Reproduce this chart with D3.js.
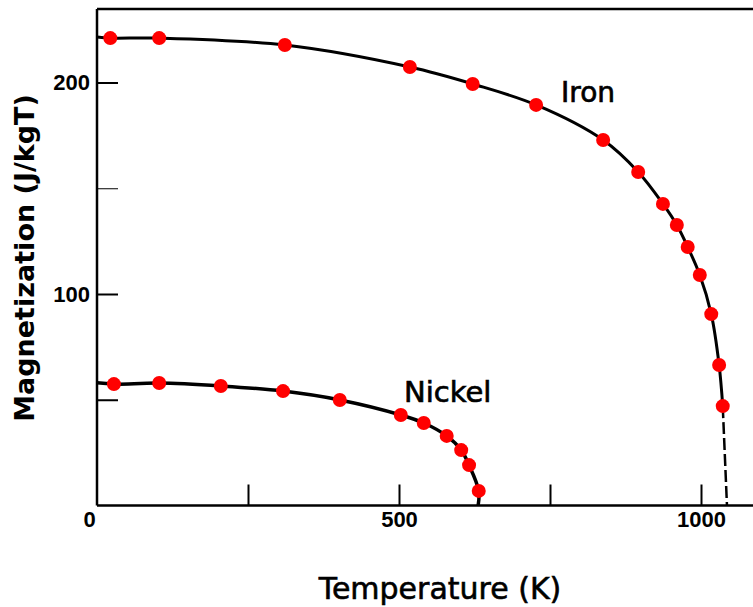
<!DOCTYPE html>
<html><head><meta charset="utf-8">
<script src="https://cdn.jsdelivr.net/npm/d3@7"></script>
<style>html,body{margin:0;padding:0;background:#fff;}svg{display:block;}</style>
</head><body>
<svg id="chart" width="753" height="607"></svg>
<script>
// Data
const ironT = [22, 103, 311, 518, 622, 727, 838, 896, 937, 960, 978, 998, 1017, 1030, 1036];
const ironM = [221, 221, 217.7, 207.3, 199.3, 189.4, 172.8, 157.7, 142.6, 132.6, 122.2, 109, 90.5, 66.4, 47];
const nickelT = [28, 103, 205, 308, 402, 503, 541, 579, 603, 616, 632];
const nickelM = [57.4, 57.9, 56.5, 54.1, 49.9, 42.8, 39.0, 32.9, 26.2, 19.1, 6.9];
const ironStart = [0, 221.5];
const ironCurie = [1043, 0];
const nickelStart = [0, 58];
const nickelCurie = [631, 0];
const xTickValues = [250, 500, 750, 1000];
const xTickLabels = [0, 500, 1000];
const yTickValues = [50, 100, 150, 200];
const yTickLabels = [100, 200];

const svg = d3.select("#chart");
const x = d3.scaleLinear().domain([0, 1000]).range([97, 701]);
const y = d3.scaleLinear().domain([0, 200]).range([505.5, 82.5]);
const xMax = x.invert(753), yMax = y.invert(9);

// frame
svg.append("line").attr("x1", x(0)).attr("x2", x(xMax)).attr("y1", y(yMax)).attr("y2", y(yMax))
  .attr("stroke", "#000").attr("stroke-width", 2.5);

// x axis (ticks inward)
const gx = svg.append("g").attr("transform", `translate(0,${y(0)})`)
  .call(d3.axisBottom(x).tickValues(xTickValues).tickSizeInner(-21).tickSizeOuter(0).tickFormat(""));
gx.select(".domain").attr("d", `M${x(0)},0H${x(xMax)}`).attr("stroke-width", 2.5);
gx.selectAll(".tick line").attr("stroke-width", 2);

const gxl = svg.append("g").attr("transform", `translate(0,${y(0)})`)
  .call(d3.axisBottom(x).tickValues(xTickLabels).tickSize(0).tickPadding(6).tickFormat(d3.format("d")));
gxl.select(".domain").remove();
gxl.selectAll("text").attr("font-family", "Liberation Sans, Arial, sans-serif").attr("font-size", 22)
  .attr("font-weight", "bold").attr("fill", "#000").attr("dx", d => d === 0 ? -8 : 0);

// y axis
const gy = svg.append("g").attr("transform", `translate(${x(0)},0)`)
  .call(d3.axisLeft(y).tickValues(yTickValues).tickSizeInner(-21).tickSizeOuter(0).tickFormat(""));
gy.select(".domain").attr("d", `M0,${y(yMax)}V${y(0)}`).attr("stroke-width", 2.5);
gy.selectAll(".tick line").attr("stroke-width", d => d === 150 ? 1 : 2);

const gyl = svg.append("g").attr("transform", `translate(${x(0)},0)`)
  .call(d3.axisLeft(y).tickValues(yTickLabels).tickSize(0).tickPadding(7).tickFormat(d3.format("d")));
gyl.select(".domain").remove();
gyl.selectAll("text").attr("font-family", "Liberation Sans, Arial, sans-serif").attr("font-size", 22)
  .attr("font-weight", "bold").attr("fill", "#000");

// curves
const lineX = d3.line().x(d => x(d[0])).y(d => y(d[1])).curve(d3.curveCatmullRom.alpha(0.5));

const ironPts = [ironStart].concat(ironT.map((t, i) => [t, ironM[i]]));
svg.append("path").attr("d", lineX(ironPts)).attr("fill", "none").attr("stroke", "#000").attr("stroke-width", 3);
svg.append("path").attr("d", lineX([ironPts[ironPts.length - 1], ironCurie]))
  .attr("fill", "none").attr("stroke", "#000").attr("stroke-width", 2.5).attr("stroke-dasharray", "12,4");

const nickelPts = [nickelStart].concat(nickelT.map((t, i) => [t, nickelM[i]]), [nickelCurie]);
svg.append("path").attr("d", lineX(nickelPts)).attr("fill", "none").attr("stroke", "#000").attr("stroke-width", 3.5);

// markers
svg.append("g").selectAll("circle").data(ironT.map((t, i) => [t, ironM[i]])).join("circle")
  .attr("cx", d => x(d[0])).attr("cy", d => y(d[1])).attr("r", 7).attr("fill", "#ff0000");
svg.append("g").selectAll("circle").data(nickelT.map((t, i) => [t, nickelM[i]])).join("circle")
  .attr("cx", d => x(d[0])).attr("cy", d => y(d[1])).attr("r", 7).attr("fill", "#ff0000");

// labels
const font = "DejaVu Sans, Verdana, sans-serif";
svg.append("text").attr("x", 561).attr("y", 102).attr("font-family", font).attr("font-size", 28)
  .attr("stroke", "#000").attr("stroke-width", 0.7).text("Iron");
svg.append("text").attr("x", 404).attr("y", 402).attr("font-family", font).attr("font-size", 29)
  .attr("stroke", "#000").attr("stroke-width", 0.7).text("Nickel");
svg.append("text").attr("x", 440).attr("y", 599).attr("text-anchor", "middle").attr("font-family", font)
  .attr("font-size", 30).attr("stroke", "#000").attr("stroke-width", 0.6).text("Temperature (K)");
svg.append("text").attr("transform", "translate(34,258) rotate(-90)").attr("text-anchor", "middle")
  .attr("font-family", font).attr("font-weight", "bold").attr("font-size", 27).text("Magnetization (J/kgT)");
</script>
</body></html>
